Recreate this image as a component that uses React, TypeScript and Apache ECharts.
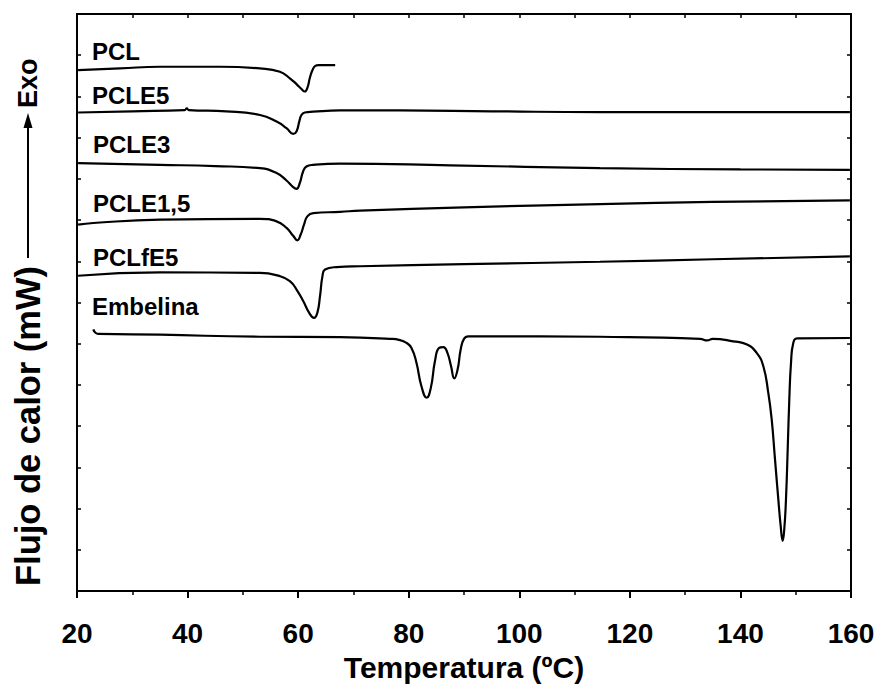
import React, { useEffect, useRef } from "react";
import * as echarts from "echarts";

const FONT = '"Liberation Sans", Arial, Helvetica, sans-serif';

// DSC heating curves: temperature (ºC) and vertically offset heat flow (mW, arbitrary offset)
const pclT = [20.2, 27.8, 35.0, 45.9, 53.1, 56.7, 58.5, 59.7, 60.6, 61.2, 61.7, 62.1, 62.6, 63.1, 63.7, 66.7];
const pclQ = [12.64, 12.68, 12.72, 12.72, 12.68, 12.6, 12.44, 12.3, 12.18, 12.12, 12.22, 12.44, 12.64, 12.74, 12.76, 12.76];

const pcle5T = [20.2, 30, 39.5, 39.85, 40.2, 47, 53.1, 56.1, 57.9, 59.1, 59.7, 60.2, 60.6, 61.2, 62.7, 67.6, 78.4, 95, 114.6, 135, 159.8];
const pcle5Q = [11.61, 11.64, 11.67, 11.71, 11.67, 11.64, 11.55, 11.39, 11.23, 11.09, 11.15, 11.39, 11.55, 11.61, 11.63, 11.66, 11.66, 11.64, 11.62, 11.62, 11.62];

const pcle3T = [20.2, 35.0, 45, 53.1, 56.1, 57.9, 59.1, 59.7, 60.3, 60.9, 61.5, 62.7, 67.6, 87.5, 114.6, 140, 159.8];
const pcle3Q = [10.38, 10.34, 10.31, 10.26, 10.14, 9.96, 9.8, 9.76, 9.9, 10.18, 10.3, 10.34, 10.37, 10.33, 10.26, 10.23, 10.22];

const pcle15T = [20.2, 22.95, 35.0, 53.1, 56.1, 57.9, 59.1, 59.85, 60.46, 61.06, 61.66, 62.74, 67.6, 71.2, 90, 114.6, 135, 159.8];
const pcle15Q = [8.89, 8.93, 9.01, 9.03, 8.97, 8.81, 8.62, 8.51, 8.65, 8.89, 9.09, 9.17, 9.2, 9.23, 9.31, 9.39, 9.44, 9.48];

const pclfe5T = [20.2, 35.0, 53.1, 56.7, 58.5, 59.74, 60.94, 62.0, 62.87, 63.47, 63.95, 64.4, 64.86, 66.97, 71.2, 90, 114.6, 135, 159.8];
const pclfe5Q = [7.65, 7.73, 7.72, 7.64, 7.52, 7.31, 7.03, 6.75, 6.63, 6.75, 7.15, 7.64, 7.8, 7.86, 7.88, 7.93, 7.99, 8.05, 8.12];

const embT = [
  22.95, 23.26, 23.85, 35.0, 53.1, 67.6, 76.6, 78.4, 79.6, 80.5, 81.4, 82.3, 83.25, 84.0, 84.75, 85.5,
  86.26, 87.0, 87.65, 88.25, 88.85, 89.4, 90.0, 90.8, 103.7, 114.6, 132.7, 134.0, 135.0, 138.7, 141.2,
  142.94, 144.13, 145.04, 145.65, 146.25, 146.85, 147.28, 147.64, 147.93, 148.24, 148.55, 148.84, 149.15,
  149.56, 150.29, 159.8,
];
const embQ = [
  6.35, 6.28, 6.24, 6.22, 6.17, 6.16, 6.12, 6.09, 6.02, 5.9, 5.54, 4.97, 4.69, 4.93, 5.58, 5.9,
  5.92, 5.78, 5.46, 5.16, 5.38, 5.86, 6.12, 6.18, 6.18, 6.17, 6.12, 6.08, 6.12, 6.06, 5.98,
  5.78, 5.46, 4.81, 4.17, 3.2, 2.23, 1.58, 1.22, 1.5, 2.23, 3.44, 4.65, 5.54,
  6.02, 6.13, 6.14,
];

const sampleNames = ["PCL", "PCLE5", "PCLE3", "PCLE1,5", "PCLfE5", "Embelina"];
const sampleT = [pclT, pcle5T, pcle3T, pcle15T, pclfe5T, embT];
const sampleQ = [pclQ, pcle5Q, pcle3Q, pcle15Q, pclfe5Q, embQ];

// label anchors (left edge, vertical middle) in pixels
const labelPos: [number, number][] = [
  [92, 51],
  [92, 95],
  [93, 144],
  [93, 203],
  [93, 257],
  [92, 306],
];

const xTicks = [20, 160, 20];
const yRange = [0, 14, 1];

export default function App() {
  const ref = useRef<HTMLDivElement>(null);

  useEffect(() => {
    if (!ref.current) return;
    const chart = echarts.init(ref.current, null, { renderer: "svg" });

    const axisLineStyle = { color: "#000", width: 2 };

    const series = sampleNames.map((name, i) => ({
      name,
      type: "line",
      xAxisIndex: 0,
      yAxisIndex: 0,
      showSymbol: false,
      smooth: 0.5,
      lineStyle: { color: "#000", width: 2.2 },
      data: sampleT[i].map((t, j) => [t, sampleQ[i][j]]),
    }));

    const labelText = sampleNames.map((name, i) => ({
      type: "text",
      x: labelPos[i][0],
      y: labelPos[i][1],
      style: {
        text: name,
        fill: "#000",
        fontSize: 24,
        fontWeight: "bold",
        fontFamily: FONT,
        align: "left",
        verticalAlign: "middle",
      },
    }));

    chart.setOption({
      animation: false,
      backgroundColor: "#fff",
      grid: { left: 77, right: 27, top: 14, bottom: 95, containLabel: false },
      xAxis: [
        {
          type: "value",
          position: "bottom",
          min: xTicks[0],
          max: xTicks[1],
          interval: xTicks[2],
          axisLine: { onZero: false, lineStyle: axisLineStyle },
          axisTick: { inside: false, length: 7, lineStyle: { color: "#000", width: 2 } },
          minorTick: { show: true, splitNumber: 2, length: 4, lineStyle: { color: "#000", width: 1.5 } },
          splitLine: { show: false },
          axisLabel: {
            color: "#000",
            fontSize: 28,
            fontWeight: "bold",
            fontFamily: FONT,
            margin: 28,
          },
          name: "Temperatura (ºC)",
          nameLocation: "middle",
          nameGap: 60,
          nameTextStyle: { color: "#000", fontSize: 30, fontWeight: "bold", fontFamily: FONT },
        },
        {
          type: "value",
          position: "top",
          min: xTicks[0],
          max: xTicks[1],
          interval: 10,
          axisLine: { onZero: false, lineStyle: axisLineStyle },
          axisTick: { inside: true, length: 4, lineStyle: { color: "#000", width: 1.5 } },
          axisLabel: { show: false },
          splitLine: { show: false },
        },
      ],
      yAxis: [
        {
          type: "value",
          position: "left",
          min: yRange[0],
          max: yRange[1],
          interval: yRange[2],
          axisLine: { show: true, onZero: false, lineStyle: axisLineStyle },
          axisTick: { show: true, inside: true, length: 4, lineStyle: { color: "#000", width: 1.5 } },
          axisLabel: { show: false },
          splitLine: { show: false },
        },
        {
          type: "value",
          position: "right",
          min: yRange[0],
          max: yRange[1],
          interval: yRange[2],
          axisLine: { show: true, onZero: false, lineStyle: axisLineStyle },
          axisTick: { show: true, inside: true, length: 4, lineStyle: { color: "#000", width: 1.5 } },
          axisLabel: { show: false },
          splitLine: { show: false },
        },
      ],
      series,
      graphic: [
        ...labelText,
        {
          type: "text",
          x: 28,
          y: 586,
          rotation: Math.PI / 2,
          style: {
            text: "Flujo de calor (mW)",
            fill: "#000",
            fontSize: 34.5,
            fontWeight: "bold",
            fontFamily: FONT,
            align: "left",
            verticalAlign: "middle",
          },
        },
        {
          type: "line",
          shape: { x1: 28, y1: 258, x2: 28, y2: 126 },
          style: { stroke: "#000", lineWidth: 2 },
        },
        {
          type: "polygon",
          shape: { points: [[28, 113], [23.5, 128], [32.5, 128]] },
          style: { fill: "#000" },
        },
        {
          type: "text",
          x: 28,
          y: 108,
          rotation: Math.PI / 2,
          style: {
            text: "Exo",
            fill: "#000",
            fontSize: 27,
            fontWeight: "bold",
            fontFamily: FONT,
            align: "left",
            verticalAlign: "middle",
          },
        },
      ],
    });

    return () => chart.dispose();
  }, []);

  return (
    <div
      ref={ref}
      style={{ position: "fixed", left: 0, top: 0, width: 878, height: 687, background: "#fff" }}
    />
  );
}
